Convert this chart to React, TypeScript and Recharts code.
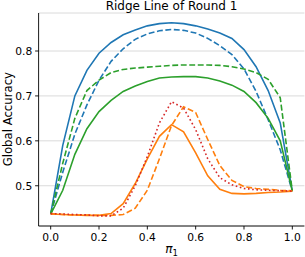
import React from "react";
import { LineChart, Line, XAxis, YAxis, CartesianGrid } from "recharts";

const piValues = [0, 0.05, 0.1, 0.15, 0.2, 0.25, 0.3, 0.35, 0.4, 0.45, 0.5, 0.55, 0.6, 0.65, 0.7, 0.75, 0.8, 0.85, 0.9, 0.95, 1.0];

const blueSolid = [0.437, 0.59, 0.70, 0.757, 0.795, 0.819, 0.836, 0.847, 0.856, 0.861, 0.863, 0.861, 0.856, 0.849, 0.840, 0.828, 0.803, 0.765, 0.712, 0.64, 0.488];
const blueDashed = [0.437, 0.53, 0.615, 0.68, 0.735, 0.777, 0.805, 0.826, 0.838, 0.845, 0.848, 0.846, 0.840, 0.828, 0.812, 0.792, 0.760, 0.71, 0.647, 0.58, 0.488];
const greenSolid = [0.437, 0.49, 0.57, 0.627, 0.665, 0.69, 0.71, 0.722, 0.732, 0.74, 0.742, 0.743, 0.743, 0.74, 0.733, 0.724, 0.71, 0.685, 0.65, 0.60, 0.488];
const greenDashed = [0.437, 0.55, 0.65, 0.712, 0.735, 0.752, 0.759, 0.762, 0.764, 0.766, 0.768, 0.769, 0.769, 0.769, 0.768, 0.765, 0.76, 0.752, 0.737, 0.696, 0.488];
const orangeSolid = [0.437, 0.436, 0.435, 0.434, 0.434, 0.438, 0.46, 0.505, 0.56, 0.61, 0.636, 0.62, 0.573, 0.522, 0.492, 0.483, 0.482, 0.483, 0.485, 0.486, 0.488];
const orangeDashed = [0.438, 0.436, 0.435, 0.435, 0.434, 0.434, 0.436, 0.45, 0.49, 0.56, 0.634, 0.676, 0.663, 0.603, 0.545, 0.512, 0.498, 0.494, 0.492, 0.49, 0.489];
const redDotted = [0.438, 0.437, 0.436, 0.435, 0.433, 0.433, 0.45, 0.50, 0.565, 0.64, 0.687, 0.673, 0.625, 0.56, 0.518, 0.502, 0.494, 0.491, 0.49, 0.489, 0.488];

const xTicks = [0, 0.2, 0.4, 0.6, 0.8, 1.0];
const yTicks = [0.5, 0.6, 0.7, 0.8];

const data = piValues.map((x, i) => ({
  x,
  blueSolid: blueSolid[i],
  blueDashed: blueDashed[i],
  greenSolid: greenSolid[i],
  greenDashed: greenDashed[i],
  orangeSolid: orangeSolid[i],
  orangeDashed: orangeDashed[i],
  redDotted: redDotted[i],
}));

const FONT = "DejaVu Sans";
const BLUE = "#1f77b4";
const GREEN = "#2ca02c";
const ORANGE = "#ff7f0e";
const RED = "#d62728";
const LW = 1.6;
const DASH = "5.9 2.6";
const DOT = "1.6 2.6";

export default function App() {
  return (
    <div style={{ position: "absolute", left: 0, top: 0, width: 305, height: 257, background: "#fff" }}>
      <LineChart width={305} height={257} data={data} margin={{ top: 13, right: 0.6, left: 0, bottom: 0 }}>
        <CartesianGrid vertical={false} stroke="#dadada" strokeWidth={1} />
        <XAxis
          dataKey="x"
          type="number"
          domain={[-0.05, 1.05]}
          ticks={xTicks}
          tickFormatter={(v: number) => v.toFixed(1)}
          height={31}
          tickSize={3.5}
          tickMargin={4}
          axisLine={{ stroke: "#000", strokeWidth: 0.9 }}
          tickLine={{ stroke: "#000", strokeWidth: 0.9 }}
          tick={{ fill: "#000", fontSize: 10.7, fontFamily: FONT }}
          allowDataOverflow
        />
        <YAxis
          type="number"
          domain={[0.4104, 0.8846]}
          ticks={yTicks}
          tickFormatter={(v: number) => v.toFixed(1)}
          width={38.6}
          tickSize={3.5}
          tickMargin={2.8}
          axisLine={{ stroke: "#000", strokeWidth: 0.9 }}
          tickLine={{ stroke: "#000", strokeWidth: 0.9 }}
          tick={{ fill: "#000", fontSize: 10.7, fontFamily: FONT }}
          allowDataOverflow
        />
        <Line dataKey="blueSolid" stroke={BLUE} strokeWidth={LW} dot={false} isAnimationActive={false} />
        <Line dataKey="blueDashed" stroke={BLUE} strokeWidth={LW} strokeDasharray={DASH} dot={false} isAnimationActive={false} />
        <Line dataKey="greenSolid" stroke={GREEN} strokeWidth={LW} dot={false} isAnimationActive={false} />
        <Line dataKey="greenDashed" stroke={GREEN} strokeWidth={LW} strokeDasharray={DASH} dot={false} isAnimationActive={false} />
        <Line dataKey="orangeSolid" stroke={ORANGE} strokeWidth={LW} dot={false} isAnimationActive={false} />
        <Line dataKey="orangeDashed" stroke={ORANGE} strokeWidth={LW} strokeDasharray={DASH} dot={false} isAnimationActive={false} />
        <Line dataKey="redDotted" stroke={RED} strokeWidth={LW} strokeDasharray={DOT} dot={false} isAnimationActive={false} />
        <text x={171.5} y={9.5} textAnchor="middle" fontSize={12} fontFamily={FONT} fill="#000">
          Ridge Line of Round 1
        </text>
        <text
          x={0}
          y={0}
          transform="translate(11.5,119.2) rotate(-90)"
          textAnchor="middle"
          fontSize={11.7}
          fontFamily={FONT}
          fill="#000"
        >
          Global Accuracy
        </text>
        <text x={171.5} y={253} textAnchor="middle" fontSize={12} fontFamily={FONT} fill="#000">
          <tspan fontStyle="italic">π</tspan>
          <tspan fontSize={8.5} dy={2.5}>1</tspan>
        </text>
      </LineChart>
    </div>
  );
}
